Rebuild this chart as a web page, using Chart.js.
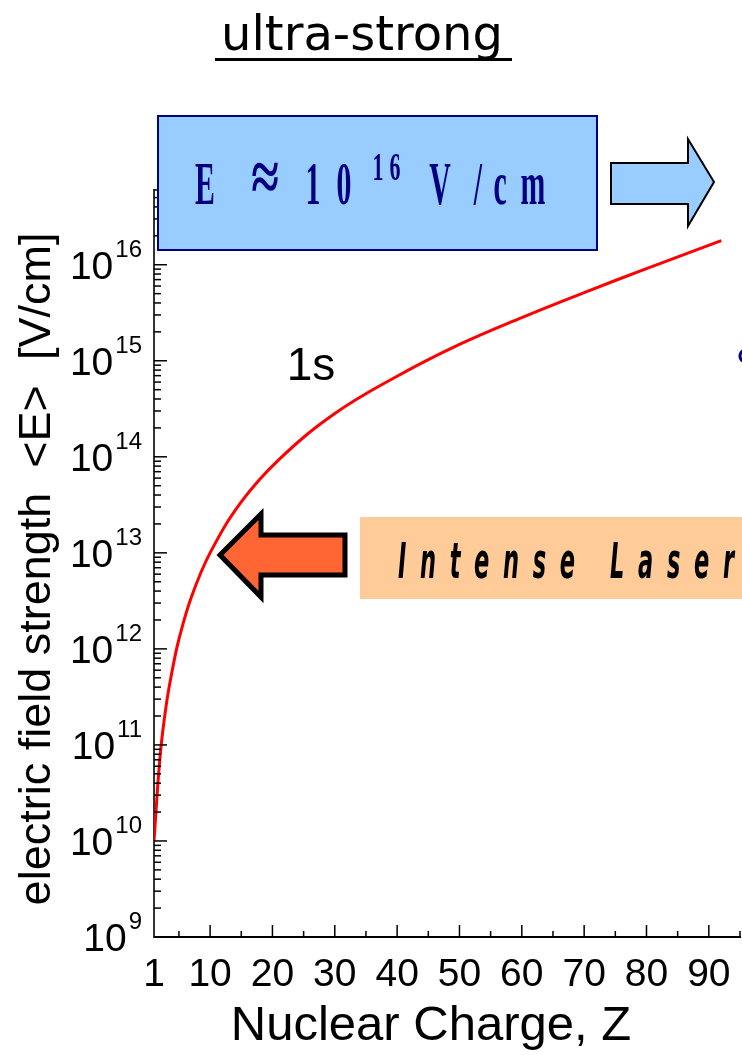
<!DOCTYPE html>
<html>
<head>
<meta charset="utf-8">
<script src="https://cdn.jsdelivr.net/npm/chart.js@4.4.1/dist/chart.umd.min.js"></script>
<style>
  html, body { margin: 0; padding: 0; background: #fff; }
  #chart { display: block; }
</style>
</head>
<body>
<canvas id="chart" width="742" height="1055"></canvas>
<script>
// 1s field strength vs nuclear charge
const nuclearCharge = [1, 2, 3, 4, 5, 7, 10, 15, 21, 30, 40, 50, 60, 70, 80, 92];
const fieldStrength = [1.0e10, 7.9e10, 2.7e11, 6.3e11, 1.26e12, 3.47e12, 1.0e13, 3.39e13, 9.3e13,
                       2.82e14, 6.9e14, 1.48e15, 2.82e15, 5.13e15, 9.1e15, 1.78e16];

const xTickLabels = [1, 10, 20, 30, 40, 50, 60, 70, 80, 90];
const xTickMarks = [5, 10, 15, 20, 25, 30, 35, 40, 45, 50, 55, 60, 65, 70, 75, 80, 85, 90, 95];
const yDecades = [9, 10, 11, 12, 13, 14, 15, 16];

const SANS = '"Liberation Sans", Arial, sans-serif';
const SERIF = '"Liberation Serif", "Times New Roman", serif';

// letters spread evenly between x0 and x1, condensed by sx
function spacedText(ctx, text, x0, x1, baseline, font, sx) {
    ctx.font = font;
    const chars = [...text];
    const widths = chars.map((c) => ctx.measureText(c).width * sx);
    const total = widths.reduce((a, b) => a + b, 0);
    const gap = (x1 - x0 - total) / (chars.length - 1);
    let x = x0;
    chars.forEach((c, i) => {
        ctx.save();
        ctx.translate(x, baseline);
        ctx.scale(sx, 1);
        ctx.textAlign = "left";
        ctx.fillText(c, 0, 0);
        ctx.restore();
        x += widths[i] + gap;
    });
}

function glyph(ctx, c, cx, baseline, font, sx) {
    ctx.save();
    ctx.font = font;
    ctx.translate(cx, baseline);
    ctx.scale(sx, 1);
    ctx.textAlign = "center";
    ctx.fillText(c, 0, 0);
    ctx.restore();
}

function polygon(ctx, pts, fill, stroke, lw) {
    ctx.beginPath();
    pts.forEach(([x, y], i) => (i ? ctx.lineTo(x, y) : ctx.moveTo(x, y)));
    ctx.closePath();
    ctx.fillStyle = fill;
    ctx.fill();
    ctx.lineWidth = lw;
    ctx.strokeStyle = stroke;
    ctx.lineJoin = "miter";
    ctx.stroke();
}

const decor = {
    id: "decor",
    afterDraw(chart) {
        const { ctx, scales: { x, y }, chartArea: area } = chart;
        ctx.save();
        ctx.fillStyle = "#000";
        ctx.strokeStyle = "#000";

        // x ticks, pointing inward
        ctx.lineWidth = 1.5;
        xTickMarks.forEach((v) => {
            const px = x.getPixelForValue(v);
            const len = v % 10 === 0 ? 12 : 6;
            ctx.beginPath();
            ctx.moveTo(px, area.bottom);
            ctx.lineTo(px, area.bottom - len);
            ctx.stroke();
        });

        // y ticks, log minor ticks
        yDecades.concat([17]).forEach((d) => {
            for (let k = 1; k <= 9; k++) {
                const v = k * Math.pow(10, d);
                if (v < y.min || v > y.max) continue;
                const py = y.getPixelForValue(v);
                const len = k === 1 ? 13 : 7;
                ctx.beginPath();
                ctx.moveTo(area.left, py);
                ctx.lineTo(area.left + len, py);
                ctx.stroke();
            }
        });

        // x tick labels
        ctx.font = "39px " + SANS;
        ctx.textAlign = "center";
        ctx.textBaseline = "alphabetic";
        xTickLabels.forEach((v) => {
            ctx.fillText(String(v), x.getPixelForValue(v), 986);
        });

        // y tick labels 10^n
        yDecades.forEach((d) => {
            const py = y.getPixelForValue(Math.pow(10, d));
            ctx.font = "24px " + SANS;
            const supW = ctx.measureText(String(d)).width;
            ctx.textAlign = "left";
            ctx.fillText(String(d), 142 - supW, py - 8);
            ctx.font = "39px " + SANS;
            ctx.textAlign = "right";
            ctx.fillText("10", 142 - supW - 2, py + 14);
        });

        // axis titles
        ctx.font = "49px " + SANS;
        ctx.textAlign = "center";
        ctx.fillText("Nuclear Charge, Z", 431, 1040);

        ctx.save();
        ctx.translate(50, 569);
        ctx.rotate(-Math.PI / 2);
        ctx.font = "45px " + SANS;
        ctx.fillText("electric field strength  <E>  [V/cm]", 0, 0);
        ctx.restore();

        // title, underlined
        ctx.font = '48px "DejaVu Sans", sans-serif';
        ctx.fillText("ultra-strong", 362, 50);
        ctx.fillRect(215, 58, 297, 3);

        // curve label
        ctx.font = "46px " + SANS;
        ctx.fillText("1s", 311, 380);

        // blue box with E estimate
        ctx.fillStyle = "#99ccff";
        ctx.fillRect(158, 116, 439, 134);
        ctx.strokeStyle = "#000080";
        ctx.lineWidth = 2;
        ctx.strokeRect(158, 116, 439, 134);
        ctx.fillStyle = "#000080";
        const big = "bold 62px " + SERIF;
        const sup = "bold 40px " + SERIF;
        glyph(ctx, "E", 205, 204, big, 0.48);
        glyph(ctx, "\u2248", 265, 201, "bold 72px " + SERIF, 0.7);
        glyph(ctx, "1", 313, 204, big, 0.48);
        glyph(ctx, "0", 344, 204, big, 0.48);
        glyph(ctx, "1", 378, 180, sup, 0.55);
        glyph(ctx, "6", 395, 180, sup, 0.55);
        glyph(ctx, "V", 440, 204, big, 0.48);
        glyph(ctx, "/", 478, 204, big, 0.48);
        glyph(ctx, "c", 500, 204, big, 0.48);
        glyph(ctx, "m", 533, 204, big, 0.48);

        // right arrow
        polygon(ctx, [[611, 163], [688, 163], [688, 139], [714, 182], [688, 226], [688, 204], [611, 204]],
            "#99ccff", "#000", 2);

        // orange box
        ctx.fillStyle = "#ffcc99";
        ctx.fillRect(360, 517, 382, 82);
        ctx.fillStyle = "#000";
        spacedText(ctx, "Intense Laser", 398, 734, 578, 'italic bold 50px "DejaVu Sans", sans-serif', 0.45);

        // left arrow
        polygon(ctx, [[220, 555], [261, 514], [261, 535], [345, 535], [345, 575], [261, 575], [261, 597]],
            "#ff6633", "#000", 5);

        // clipped navy mark at the right edge
        ctx.strokeStyle = "#000080";
        ctx.lineWidth = 3;
        ctx.beginPath();
        ctx.arc(746, 356, 6, Math.PI * 0.6, Math.PI * 1.4);
        ctx.stroke();

        ctx.restore();
    },
};

new Chart(document.getElementById("chart"), {
    type: "line",
    data: {
        datasets: [
            {
                data: nuclearCharge.map((z, i) => ({ x: z, y: fieldStrength[i] })),
                borderColor: "#ff0000",
                borderWidth: 3,
                pointRadius: 0,
                tension: 0.4,
                fill: false,
            },
        ],
    },
    options: {
        responsive: false,
        animation: false,
        layout: { padding: { left: 154, right: 2, top: 190, bottom: 118 } },
        plugins: { legend: { display: false }, tooltip: { enabled: false } },
        scales: {
            x: {
                type: "linear",
                min: 1,
                max: 95,
                ticks: { display: false },
                grid: { display: false },
                border: { display: true, color: "#000", width: 2 },
                afterFit: (s) => { s.height = 0; },
            },
            y: {
                type: "logarithmic",
                min: 1e9,
                max: 6e16,
                ticks: { display: false },
                grid: { display: false },
                border: { display: true, color: "#333", width: 2 },
                afterFit: (s) => { s.width = 0; },
            },
        },
    },
    plugins: [decor],
});
</script>
</body>
</html>
